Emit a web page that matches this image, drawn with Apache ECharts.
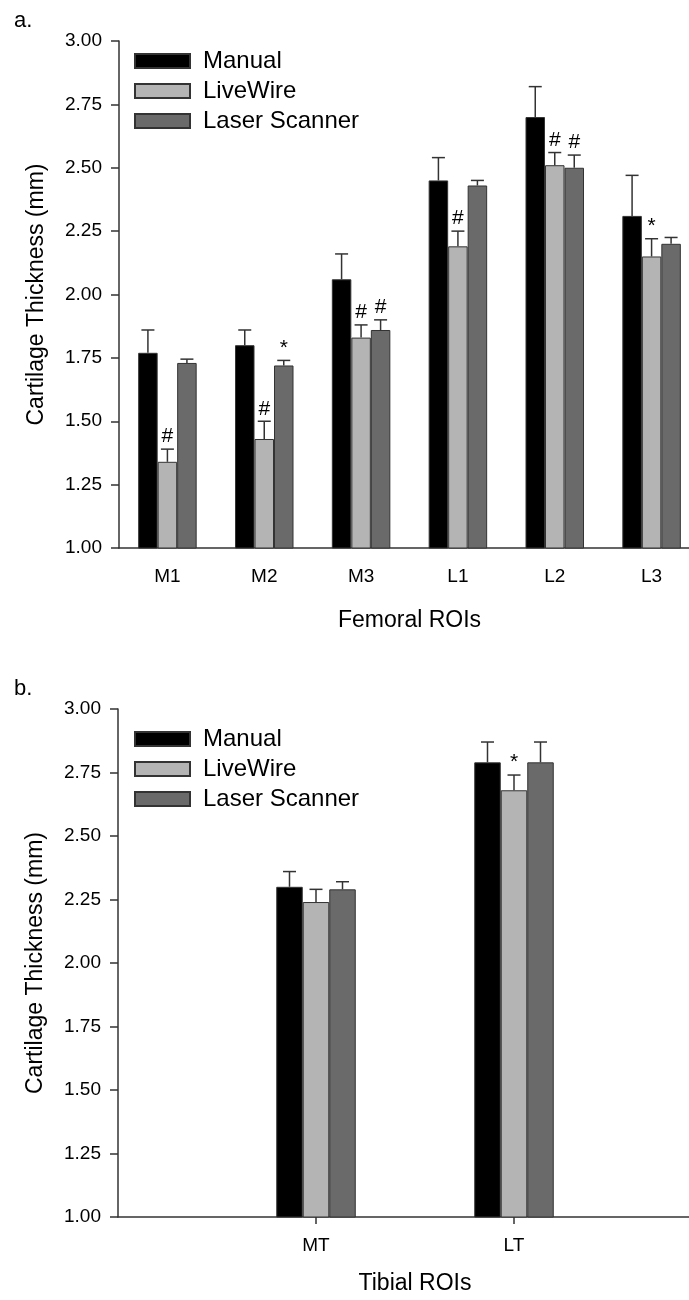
<!DOCTYPE html>
<html>
<head>
<meta charset="utf-8">
<script src="https://cdn.jsdelivr.net/npm/echarts@6/dist/echarts.min.js"></script>
<style>
  html, body { margin: 0; background: #fff; overflow: hidden; }
  #chartA, #chartB { width: 760px; height: 650px; }
</style>
</head>
<body>
<div id="chartA"></div>
<div id="chartB"></div>
<script>
var seriesNames = ['Manual', 'LiveWire', 'Laser Scanner'];
var seriesColors = ['#000000', '#b4b4b4', '#6a6a6a'];
var yTicks = [1.00, 1.25, 1.50, 1.75, 2.00, 2.25, 2.50, 2.75, 3.00];

// a. femoral
var femoralCats = ['M1', 'M2', 'M3', 'L1', 'L2', 'L3'];
var femoralManual = [1.77, 1.80, 2.06, 2.45, 2.70, 2.31];
var femoralManualErr = [0.09, 0.06, 0.10, 0.09, 0.12, 0.16];
var femoralLive = [1.34, 1.43, 1.83, 2.19, 2.51, 2.15];
var femoralLiveErr = [0.05, 0.07, 0.05, 0.06, 0.05, 0.07];
var femoralLaser = [1.73, 1.72, 1.86, 2.43, 2.50, 2.20];
var femoralLaserErr = [0.015, 0.02, 0.04, 0.02, 0.05, 0.025];
var femoralManualSig = ['', '', '', '', '', ''];
var femoralLiveSig = ['#', '#', '#', '#', '#', '*'];
var femoralLaserSig = ['', '*', '#', '', '#', ''];

// b. tibial
var tibialCats = ['MT', 'LT'];
var tibialManual = [2.30, 2.79];
var tibialManualErr = [0.06, 0.08];
var tibialLive = [2.24, 2.68];
var tibialLiveErr = [0.05, 0.06];
var tibialLaser = [2.29, 2.79];
var tibialLaserErr = [0.03, 0.08];
var tibialManualSig = ['', ''];
var tibialLiveSig = ['', '*'];
var tibialLaserSig = ['', ''];

var FONT = "'Liberation Sans', Arial, sans-serif";

function errSeries(idx, values, errs, sigs, barW, shift) {
    return {
        name: seriesNames[idx] + ' err',
        type: 'custom',
        z: 5,
        data: values.map(function (v, i) { return [i + shift, v, errs[i]]; }),
        renderItem: function (params, api) {
            var c = api.value(0), v = api.value(1), e = api.value(2);
            var base = api.coord([c, v]);
            var top = api.coord([c, v + e]);
            var x = base[0] + (idx - 1) * barW;
            var st = { stroke: '#333', lineWidth: 1.5 };
            var kids = [
                { type: 'line', shape: { x1: x, y1: base[1], x2: x, y2: top[1] }, style: st },
                { type: 'line', shape: { x1: x - 6.5, y1: top[1], x2: x + 6.5, y2: top[1] }, style: st }
            ];
            var s = sigs[params.dataIndex];
            if (s) {
                kids.push({
                    type: 'text',
                    style: {
                        text: s, x: x, y: top[1] - 2,
                        align: 'center', verticalAlign: 'bottom',
                        font: '21px ' + FONT, fill: '#000'
                    }
                });
            }
            return { type: 'group', children: kids };
        }
    };
}

function buildOption(cfg) {
    var series = [];
    cfg.values.forEach(function (vals, i) {
        series.push({
            name: seriesNames[i],
            type: 'bar',
            barWidth: cfg.barW,
            barGap: '0%',
            itemStyle: { color: seriesColors[i], borderColor: '#333', borderWidth: 1 },
            data: cfg.pad ? [null].concat(vals, [null]) : vals
        });
    });
    cfg.values.forEach(function (vals, i) {
        series.push(errSeries(i, vals, cfg.errs[i], cfg.sigs[i], cfg.barW, cfg.pad ? 1 : 0));
    });
    var cats = cfg.pad ? [''].concat(cfg.cats, ['']) : cfg.cats;
    return {
        animation: false,
        textStyle: { fontFamily: FONT },
        title: {
            text: cfg.letter, left: 14, top: cfg.letterTop, padding: 0,
            textStyle: { fontSize: 22, fontWeight: 'normal', color: '#000', fontFamily: FONT }
        },
        legend: {
            data: seriesNames,
            orient: 'vertical',
            left: 134,
            top: cfg.legendTop,
            padding: 0,
            icon: 'rect',
            itemWidth: 55,
            itemHeight: 14,
            itemGap: 0,
            selectedMode: false,
            textStyle: { fontSize: 24, lineHeight: 30, color: '#000', fontFamily: FONT, padding: [0, 0, 0, 8] }
        },
        grid: { left: cfg.gridLeft, top: cfg.gridTop, width: cfg.gridWidth, height: cfg.gridHeight },
        xAxis: {
            type: 'category',
            data: cats,
            boundaryGap: !cfg.pad,
            name: cfg.xName,
            nameLocation: 'middle',
            nameGap: cfg.xNameGap,
            nameTextStyle: { fontSize: 23, color: '#000', fontFamily: FONT },
            axisLine: { lineStyle: { color: '#333', width: 1.5 } },
            axisTick: {
                length: 7,
                lineStyle: { color: '#333', width: 1.5 },
                alignWithLabel: true,
                interval: cfg.pad ? function (i) { return i > 0 && i <= cfg.cats.length; } : 0
            },
            axisLabel: { fontSize: 19, color: '#000', margin: 19, interval: 0, fontFamily: FONT }
        },
        yAxis: {
            type: 'value',
            min: yTicks[0],
            max: yTicks[yTicks.length - 1],
            interval: yTicks[1] - yTicks[0],
            name: 'Cartilage Thickness (mm)',
            nameLocation: 'middle',
            nameGap: 71,
            nameTextStyle: { fontSize: 23, color: '#000', fontFamily: FONT },
            splitLine: { show: false },
            axisLine: { show: true, lineStyle: { color: '#333', width: 1.5 } },
            axisTick: { show: true, length: 8, lineStyle: { color: '#333', width: 1.5 } },
            axisLabel: {
                fontSize: 19, color: '#000', margin: 17, fontFamily: FONT,
                formatter: function (v) { return v.toFixed(2); }
            }
        },
        series: series
    };
}

var chartA = echarts.init(document.getElementById('chartA'));
chartA.setOption(buildOption({
    letter: 'a.', letterTop: 10,
    cats: femoralCats,
    values: [femoralManual, femoralLive, femoralLaser],
    errs: [femoralManualErr, femoralLiveErr, femoralLaserErr],
    sigs: [femoralManualSig, femoralLiveSig, femoralLaserSig],
    barW: 19.5, pad: false,
    gridLeft: 119, gridTop: 41, gridWidth: 581, gridHeight: 507,
    legendTop: 46,
    xName: 'Femoral ROIs', xNameGap: 61
}));

var chartB = echarts.init(document.getElementById('chartB'));
chartB.setOption(buildOption({
    letter: 'b.', letterTop: 28,
    cats: tibialCats,
    values: [tibialManual, tibialLive, tibialLaser],
    errs: [tibialManualErr, tibialLiveErr, tibialLaserErr],
    sigs: [tibialManualSig, tibialLiveSig, tibialLaserSig],
    barW: 26.5, pad: true,
    gridLeft: 118, gridTop: 59, gridWidth: 594, gridHeight: 508,
    legendTop: 74,
    xName: 'Tibial ROIs', xNameGap: 55
}));
</script>
</body>
</html>
